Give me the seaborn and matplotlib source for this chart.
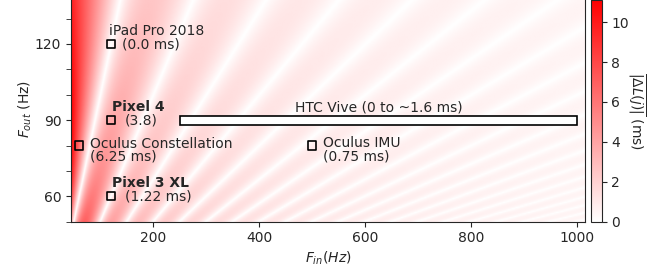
"""
Mean latency change |dL(j)| between consecutive output frames when an input
sampled at F_in is consumed by an output running at F_out.
"""

import numpy as np
import matplotlib
matplotlib.use("Agg")
import matplotlib.pyplot as plt
import matplotlib.patches as patches
import matplotlib.transforms as mtransforms
from matplotlib.colors import LinearSegmentedColormap
from matplotlib.ticker import MultipleLocator
import seaborn as sns

# Axis samples of the map (Hz)
f_in = np.arange(45, 1016, 1.0)
f_out = np.arange(50, 139.01, 0.5)

# Devices marked on the map
device_names = ["iPad Pro 2018", "Pixel 4", "Oculus Constellation", "Pixel 3 XL", "Oculus IMU"]
device_f_in = [120, 120, 60, 120, 500]
device_f_out = [120, 90, 80, 60, 80]
device_latency = ["(0.0 ms)", "(3.8)", "(6.25 ms)", "(1.22 ms)", "(0.75 ms)"]

# HTC Vive spans a range of input rates at 90 Hz output
vive_f_in = [250, 1000]
vive_f_out = 90
vive_label = "HTC Vive (0 to ~1.6 ms)"

cbar_ticks = [0, 2, 4, 6, 8, 10]


def mean_latency_change(f_in, f_out):
    """Mean |dL(j)| in ms: 2 * f * (1 - f) * T_in with f = frac(F_in / F_out)."""
    fin, fout = np.meshgrid(f_in, f_out)
    frac = np.mod(fin / fout, 1.0)
    return 2 * frac * (1 - frac) / fin * 1000.0


def main():
    sns.set_style("ticks")
    plt.rcParams["font.family"] = ["DejaVu Sans"]
    plt.rcParams["font.size"] = 10

    dl = mean_latency_change(f_in, f_out)
    vmax = 0.5 / f_in.min() * 1000.0
    cmap = LinearSegmentedColormap.from_list("white_red", ["#ffffff", "#ff0000"])

    fig = plt.figure(figsize=(6.65, 2.73), dpi=100)
    ax = fig.add_axes([71 / 665, 51.3 / 273, 514 / 665, 226 / 273])
    cax = fig.add_axes([591 / 665, 51.3 / 273, 10.7 / 665, 221.7 / 273])

    im = ax.imshow(dl, origin="lower", aspect="auto", cmap=cmap, vmin=0, vmax=vmax,
                   extent=[f_in.min(), f_in.max(), f_out.min(), f_out.max()],
                   interpolation="bilinear")
    ax.set_xlim(f_in.min(), f_in.max())
    ax.set_ylim(f_out.min(), f_out.max())

    # Device markers
    sns.scatterplot(x=device_f_in, y=device_f_out, marker="s", s=36,
                    facecolor="none", edgecolor="black", linewidth=1.2,
                    ax=ax, zorder=5, legend=False)

    # HTC Vive range
    ax.add_patch(patches.Rectangle((vive_f_in[0], vive_f_out - 1.8),
                                   vive_f_in[1] - vive_f_in[0], 3.6,
                                   facecolor="white", edgecolor="black",
                                   linewidth=1.2, zorder=4))
    ax.text(np.mean(vive_f_in), vive_f_out + 4.9, vive_label,
            ha="center", va="center")

    # Labels next to the markers
    two_line = ax.transData + mtransforms.ScaledTranslation(0, 6 / 72, fig.dpi_scale_trans)
    ax.text(117.6, 125.2, device_names[0], ha="left", va="center")
    ax.text(140.8, 119.8, device_latency[0], ha="left", va="center")
    ax.text(122.5, 95.2, device_names[1], ha="left", va="center", fontweight="bold")
    ax.text(146, 89.8, device_latency[1], ha="left", va="center")
    ax.text(80.3, 80.1, device_names[2] + "\n" + device_latency[2],
            ha="left", va="top", linespacing=0.9, transform=two_line)
    ax.text(122.5, 65.3, device_names[3], ha="left", va="center", fontweight="bold")
    ax.text(146, 59.8, device_latency[3], ha="left", va="center")
    ax.text(521, 80.4, device_names[4] + "\n" + device_latency[4],
            ha="left", va="top", linespacing=0.9, transform=two_line)

    ax.set_xticks([200, 400, 600, 800, 1000])
    ax.set_yticks([60, 90, 120])
    ax.yaxis.set_minor_locator(MultipleLocator(10))
    ax.tick_params(axis="y", which="minor", length=3.5)
    ax.set_xlabel("$F_{in}(Hz)$", labelpad=3)
    ax.set_ylabel("$F_{out}$ (Hz)", labelpad=1)

    cbar = fig.colorbar(im, cax=cax, ticks=cbar_ticks)
    cbar.set_label(r"$\overline{|\Delta L(j)|}$ (ms)", rotation=270, labelpad=13)

    fig.savefig("out.png", dpi=100)


if __name__ == "__main__":
    main()
